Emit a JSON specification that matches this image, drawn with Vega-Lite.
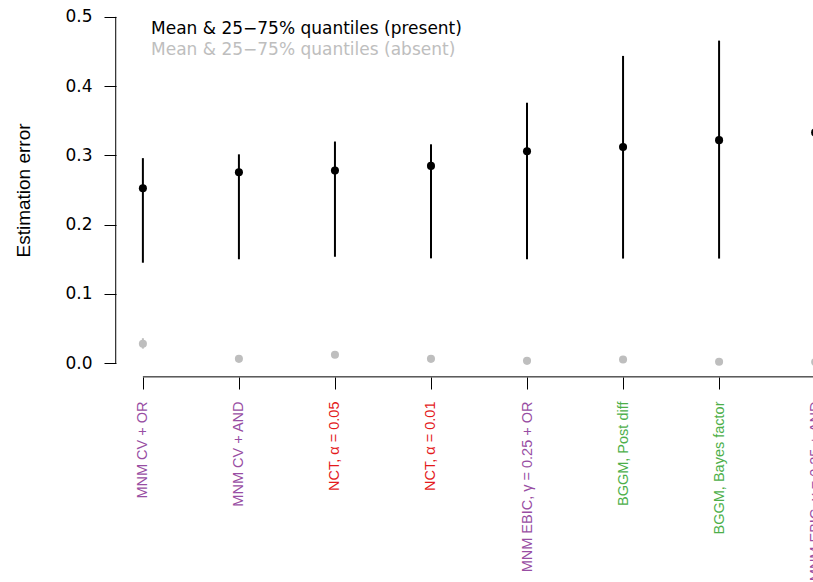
{
  "$schema": "https://vega.github.io/schema/vega-lite/v6.json",
  "autosize": {"type": "none"},
  "padding": {"left": 116, "top": 3, "right": -29, "bottom": 205},
  "width": 726,
  "height": 374,
  "background": "white",
  "config": {
    "view": {"stroke": null},
    "axis": {"grid": false, "domain": false, "tickColor": "black", "tickWidth": 1, "labelColor": "black", "titleColor": "black"}
  },
  "data": {"values": [
    {"idx": 1, "method": "MNM CV + OR", "group": "present", "mean": 0.2525, "q25": 0.145, "q75": 0.296},
    {"idx": 2, "method": "MNM CV + AND", "group": "present", "mean": 0.2755, "q25": 0.150, "q75": 0.3015},
    {"idx": 3, "method": "NCT, α = 0.05", "group": "present", "mean": 0.278, "q25": 0.1536, "q75": 0.320},
    {"idx": 4, "method": "NCT, α = 0.01", "group": "present", "mean": 0.2848, "q25": 0.1513, "q75": 0.316},
    {"idx": 5, "method": "MNM EBIC, γ = 0.25 + OR", "group": "present", "mean": 0.306, "q25": 0.150, "q75": 0.376},
    {"idx": 6, "method": "BGGM, Post diff", "group": "present", "mean": 0.312, "q25": 0.151, "q75": 0.4436},
    {"idx": 7, "method": "BGGM, Bayes factor", "group": "present", "mean": 0.322, "q25": 0.151, "q75": 0.4657},
    {"idx": 8, "method": "MNM EBIC, γ = 0.25 + AND", "group": "present", "mean": 0.333, "q25": 0.150, "q75": 0.47},
    {"idx": 1, "method": "MNM CV + OR", "group": "absent", "mean": 0.028, "q25": 0.021, "q75": 0.036},
    {"idx": 2, "method": "MNM CV + AND", "group": "absent", "mean": 0.0062, "q25": 0.003, "q75": 0.009},
    {"idx": 3, "method": "NCT, α = 0.05", "group": "absent", "mean": 0.012, "q25": 0.008, "q75": 0.016},
    {"idx": 4, "method": "NCT, α = 0.01", "group": "absent", "mean": 0.0062, "q25": 0.003, "q75": 0.009},
    {"idx": 5, "method": "MNM EBIC, γ = 0.25 + OR", "group": "absent", "mean": 0.0033, "q25": 0.001, "q75": 0.006},
    {"idx": 6, "method": "BGGM, Post diff", "group": "absent", "mean": 0.0053, "q25": 0.002, "q75": 0.008},
    {"idx": 7, "method": "BGGM, Bayes factor", "group": "absent", "mean": 0.0019, "q25": 0.0, "q75": 0.004},
    {"idx": 8, "method": "MNM EBIC, γ = 0.25 + AND", "group": "absent", "mean": 0.0015, "q25": 0.0, "q75": 0.003}
  ]},
  "layer": [
    {
      "data": {"values": [{}]},
      "mark": {"type": "rule", "color": "black", "strokeWidth": 1},
      "encoding": {
        "x": {"datum": 0.7172, "type": "quantitative"},
        "y": {"datum": 0, "type": "quantitative"},
        "y2": {"datum": 0.5}
      }
    },
    {
      "data": {"values": [{}]},
      "mark": {"type": "rule", "color": "black", "strokeWidth": 1},
      "encoding": {
        "x": {"datum": 1, "type": "quantitative"},
        "x2": {"datum": 8.5},
        "y": {"datum": -0.0198, "type": "quantitative"}
      }
    },
    {
      "mark": {"type": "rule", "strokeWidth": 2},
      "encoding": {
        "x": {
          "field": "idx", "type": "quantitative",
          "scale": {"domain": [0.72, 8.28], "nice": false, "zero": false},
          "axis": {
            "values": [1, 2, 3, 4, 5, 6, 7, 8],
            "title": null,
            "tickSize": 12,
            "labelAngle": 270,
            "labelAlign": "right",
            "labelBaseline": "middle",
            "labelPadding": 12,
            "labelFont": "Liberation Sans",
            "labelFontSize": 14.5,
            "labelOverlap": false,
            "labelBound": false,
            "labelFlush": false,
            "labelExpr": "['', 'MNM CV + OR', 'MNM CV + AND', 'NCT, α = 0.05', 'NCT, α = 0.01', 'MNM EBIC, γ = 0.25 + OR', 'BGGM, Post diff', 'BGGM, Bayes factor', 'MNM EBIC, γ = 0.25 + AND'][datum.value]",
            "labelColor": {
              "condition": [
                {"test": "datum.value == 3 || datum.value == 4", "value": "#E41A1C"},
                {"test": "datum.value == 6 || datum.value == 7", "value": "#4DAF4A"}
              ],
              "value": "#984EA3"
            }
          }
        },
        "y": {
          "field": "q25", "type": "quantitative",
          "scale": {"domain": [-0.02, 0.52], "nice": false, "zero": false},
          "axis": {
            "values": [0, 0.1, 0.2, 0.3, 0.4, 0.5],
            "format": ".1f",
            "tickSize": 12,
            "labelPadding": 12,
            "labelFont": "DejaVu Sans",
            "labelFontSize": 17,
            "title": "Estimation error",
            "titleFont": "Liberation Sans",
            "titleFontSize": 19,
            "titleFontWeight": "normal",
            "titleAngle": 270,
            "titleAlign": "center",
            "titleBaseline": "middle",
            "titleX": -93,
            "titleY": 187
          }
        },
        "y2": {"field": "q75"},
        "color": {
          "field": "group", "type": "nominal",
          "scale": {"domain": ["present", "absent"], "range": ["#000000", "#BEBEBE"]},
          "legend": {
            "orient": "none",
            "legendX": 18,
            "legendY": 17.5,
            "title": null,
            "padding": 0,
            "symbolSize": 0,
            "symbolStrokeWidth": 0,
            "symbolOpacity": 0,
            "labelOffset": 0,
            "rowPadding": 2.5,
            "labelFont": "DejaVu Sans",
            "labelFontSize": 17,
            "labelLimit": 0,
            "labelExpr": "'Mean & 25−75% quantiles (' + datum.label + ')'",
            "encode": {
              "labels": {"update": {"fill": {"signal": "datum.value === 'present' ? '#000000' : '#BEBEBE'"}}}
            }
          }
        }
      }
    },
    {
      "mark": {"type": "circle", "size": 65, "opacity": 1},
      "encoding": {
        "x": {"field": "idx", "type": "quantitative"},
        "y": {"field": "mean", "type": "quantitative"},
        "color": {"field": "group", "type": "nominal"}
      }
    }
  ]
}
